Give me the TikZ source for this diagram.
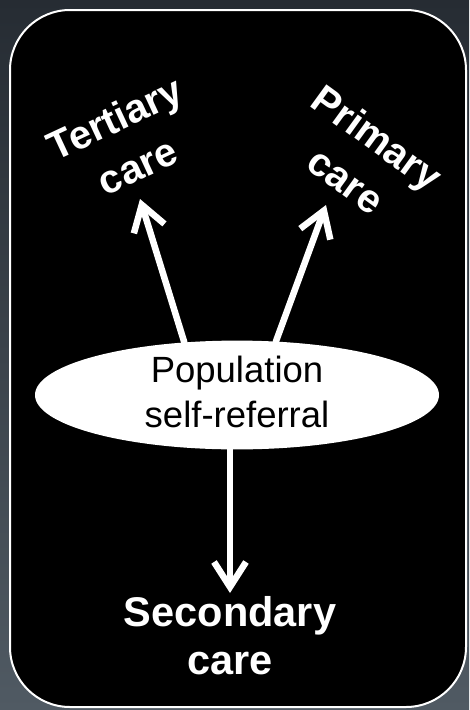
\documentclass[tikz,border=0pt]{standalone}
\usepackage{fontspec}
\setmainfont{Liberation Sans}
\usetikzlibrary{shapes.geometric,arrows.meta}
\definecolor{bgtop}{HTML}{262C33}
\definecolor{bgbot}{HTML}{505A63}
\begin{document}
\begin{tikzpicture}[x=1pt,y=-1pt,
  arr/.style={draw=white,line width=6.5pt,line cap=round,line join=round,
    -{Straight Barb[length=25pt,width=32pt]}},
  lbl/.style={text=white,font=\bfseries\fontsize{40}{53}\selectfont,align=center,inner sep=0pt}]
\shade[top color=bgtop,bottom color=bgbot] (0,0) rectangle (469,710);
\useasboundingbox (0,0) rectangle (469,710);
\draw[white,line width=2pt,fill=black,rounded corners=60pt] (10,10) rectangle (466,707);
\node[ellipse,fill=white,minimum width=404pt,minimum height=104pt,inner sep=0pt,
  align=center,text depth=5.5pt,font=\fontsize{36.5}{45}\selectfont] (pop) at (237,395) {Population\\self-referral};
\coordinate (tt) at (140,199);
\coordinate (pt) at (326,205);
\coordinate (st) at (230,593);
\draw[arr] (pop.135.4) -- (tt);
\draw[arr] (pop.54.2) -- (pt);
\draw[arr] (pop.south -| st) -- (st);
\node[lbl,rotate=25] (ter) at (126,142) {Tertiary\\care};
\node[lbl,rotate=-36] (pri) at (362,159) {Primary\\care};
\node[lbl,font=\bfseries\fontsize{41.5}{48}\selectfont] (sec) at (230,636) {Secondary\\care};
\end{tikzpicture}
\end{document}
